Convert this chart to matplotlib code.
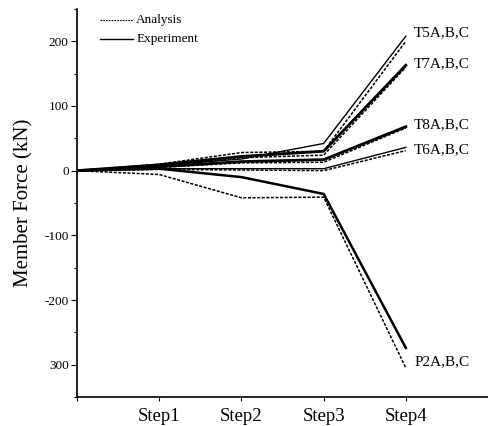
import numpy as np
import matplotlib.pyplot as plt
from matplotlib.ticker import MultipleLocator

plt.rcParams['font.family'] = ['Liberation Serif', 'DejaVu Serif']

steps = [0, 1, 2, 3, 4]
step_labels = ['Step1', 'Step2', 'Step3', 'Step4']

# experiment (solid) and analysis (dashed) member forces, kN
t5_exp = [0, 8, 18, 42, 208]
t5_ana = [0, 10, 28, 30, 200]
t7_exp = [0, 9, 22, 30, 163]
t7_ana = [0, 7, 20, 24, 160]
t8_exp = [0, 6, 14, 17, 68]
t8_ana = [0, 5, 12, 13, 66]
t6_exp = [0, 3, 3, 3, 36]
t6_ana = [0, 2, 1, 0, 31]
p2_exp = [0, 3, -10, -36, -274]
p2_ana = [0, -6, -42, -41, -305]

members = ['T5A,B,C', 'T7A,B,C', 'T8A,B,C', 'T6A,B,C', 'P2A,B,C']
y_ticks = [-300, -200, -100, 0, 100, 200]
y_ticklabels = ['300', '-200', '-100', '0', '100', '200']

fig = plt.figure(figsize=(4.88, 4.26), dpi=100)
ax = fig.add_axes([0.158, 0.068, 0.842, 0.911])

exp_series = [t5_exp, t7_exp, t8_exp, t6_exp, p2_exp]
ana_series = [t5_ana, t7_ana, t8_ana, t6_ana, p2_ana]
widths = [1.0, 2.0, 2.0, 1.0, 1.8]

dash = (0, (2.0, 1.0))
for e, a, w in zip(exp_series, ana_series, widths):
    ax.plot(steps, a, color='black', lw=1.1, ls=dash)
    ax.plot(steps, e, color='black', lw=w)

# member labels beside the step 4 end points
label_y = [t5_exp[-1] + 5, t7_exp[-1] + 3, t8_exp[-1] + 3, t6_exp[-1] - 3, p2_ana[-1] + 10]
for name, ly in zip(members, label_y):
    ax.text(4.1, ly, name, fontsize=11, ha='left', va='center')

# legend drawn by hand
lx = [0.28, 0.68]
ax.plot(lx, [233, 233], color='black', lw=0.8, ls=(0, (1.5, 1.0)))
ax.plot(lx, [203, 203], color='black', lw=1.0)
ax.text(0.72, 233, 'Analysis', fontsize=9.5, va='center')
ax.text(0.72, 203, 'Experiment', fontsize=9.5, va='center')

ax.set_xlim(0, 5)
ax.set_ylim(-350, 250)
ax.set_xticks([0, 1, 2, 3, 4])
ax.set_xticklabels([''] + step_labels, fontsize=13.5)
ax.set_yticks(y_ticks)
ax.set_yticklabels(y_ticklabels, fontsize=9.5)
ax.yaxis.set_minor_locator(MultipleLocator(50))
ax.tick_params(axis='y', which='major', direction='out', length=4, width=0.8, pad=2)
ax.tick_params(axis='y', which='minor', direction='out', length=2, width=0.8)
ax.tick_params(axis='x', direction='out', length=3, width=0.8, pad=5)
ax.set_ylabel('Member Force (kN)', fontsize=15, labelpad=8)

for s in ['top', 'right']:
    ax.spines[s].set_visible(False)
for s in ['left', 'bottom']:
    ax.spines[s].set_linewidth(1.2)

fig.savefig('out.png', dpi=100)
